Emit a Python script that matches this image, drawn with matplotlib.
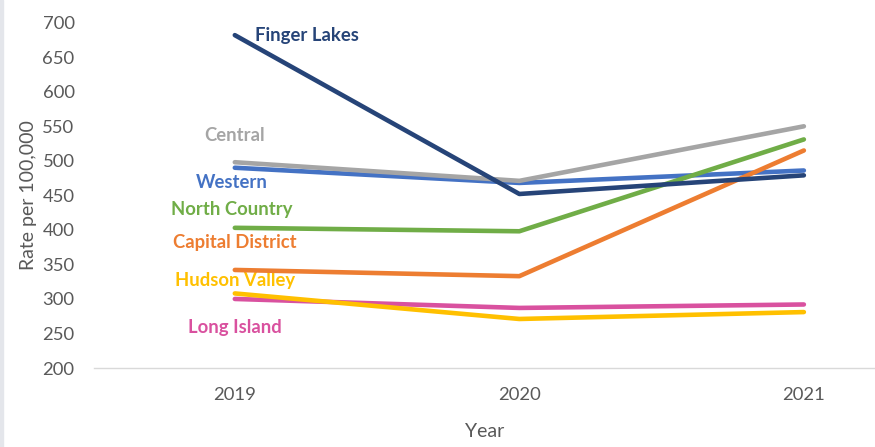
import numpy as np
import matplotlib.pyplot as plt

years = ['2019', '2020', '2021']

regions = ['Western', 'Central', 'Long Island', 'Hudson Valley', 'North Country',
           'Capital District', 'Finger Lakes']
finger_lakes = [682, 452, 479]
central = [498, 471, 550]
western = [490, 468, 486]
north_country = [403, 398, 531]
capital_district = [342, 333, 515]
hudson_valley = [308, 271, 281]
long_island = [300, 287, 292]

values = {
    'Finger Lakes': finger_lakes,
    'Central': central,
    'Western': western,
    'North Country': north_country,
    'Capital District': capital_district,
    'Hudson Valley': hudson_valley,
    'Long Island': long_island,
}
colors = {
    'Finger Lakes': '#264478',
    'Central': '#A5A5A5',
    'Western': '#4472C4',
    'North Country': '#70AD47',
    'Capital District': '#ED7D31',
    'Hudson Valley': '#FFC000',
    'Long Island': '#D9519F',
}
# label anchor (x index, y value, alignment)
label_pos = {
    'Finger Lakes': (0.07, 681, 'left'),
    'Central': (0.0, 537, 'center'),
    'Western': (-0.01, 468, 'center'),
    'North Country': (-0.01, 429, 'center'),
    'Capital District': (0.0, 382, 'center'),
    'Hudson Valley': (0.0, 326, 'center'),
    'Long Island': (0.0, 259, 'center'),
}

plt.rcParams['font.family'] = ['Lato', 'DejaVu Sans']

fig = plt.figure(figsize=(8.75, 4.47), dpi=100)
ax = fig.add_axes([0.1074, 0.1767, 0.8926, 0.7725])

x = np.arange(len(years))
for i, name in enumerate(regions):
    ax.plot(x, values[name], color=colors[name], lw=3.3,
            solid_capstyle='round', zorder=2 + i)
    lx, ly, ha = label_pos[name]
    ax.text(lx, ly, name, color=colors[name], fontsize=13.3, fontweight='bold',
            ha=ha, va='center')

ax.set_xlim(-0.495, 2.25)
ax.set_ylim(200, 700)
ax.set_yticks(np.arange(200, 701, 50))
ax.set_xticks(x)
ax.set_xticklabels(years)

for side in ['top', 'right', 'left']:
    ax.spines[side].set_visible(False)
ax.spines['bottom'].set_color('#D9D9D9')
ax.spines['bottom'].set_linewidth(1.0)
ax.tick_params(axis='both', length=0, labelsize=13.3, colors='#595959')
ax.tick_params(axis='y', pad=14)
ax.tick_params(axis='x', pad=14)

ax.set_ylabel('Rate per 100,000', fontsize=14, color='#595959', labelpad=4)
ax.set_xlabel('Year', fontsize=14, color='#595959', labelpad=14)

fig.patches.append(plt.Rectangle((0, 0), 0.003, 1, transform=fig.transFigure,
                                 color='#E4E6EB', zorder=0))

fig.savefig('out.png', dpi=100)
